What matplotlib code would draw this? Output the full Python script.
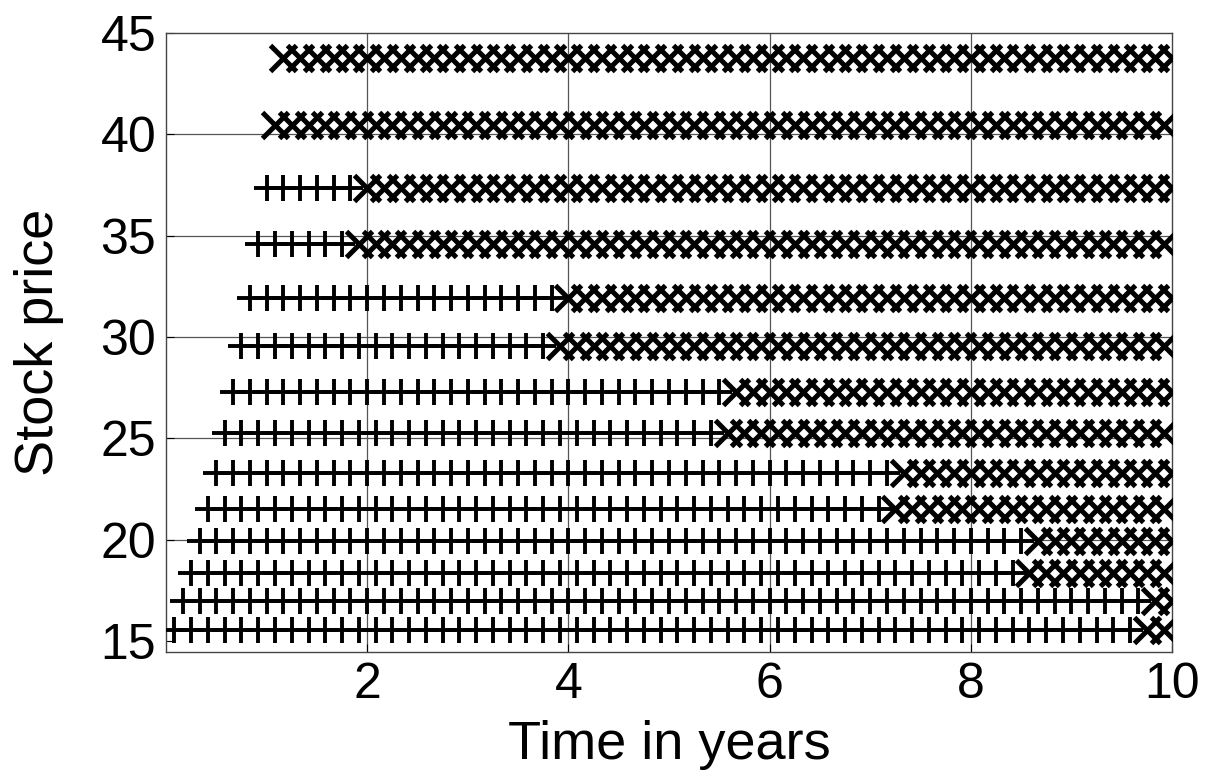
import numpy as np
import matplotlib
matplotlib.use("Agg")
import matplotlib.pyplot as plt

# Price level of each lattice row (top to bottom)
prices = [43.77, 40.46, 37.34, 34.60, 31.92, 29.54, 27.29,
          25.27, 23.28, 21.53, 19.92, 18.35, 16.96, 15.57]
# Month of the first node in each row
first_month = [14, 13, 12, 11, 10, 9, 8, 7, 6, 5, 4, 3, 2, 1]
# Month of the first exercise ('x') node in each row
exercise_month = [14, 13, 24, 23, 48, 47, 68, 67, 88, 87, 104, 103, 118, 117]
last_month = 120
step_months = 2

x_ticks = [2, 4, 6, 8, 10]
y_ticks = [15, 20, 25, 30, 35, 40, 45]

plt.rcParams["font.family"] = ["Liberation Sans", "DejaVu Sans"]

fig = plt.figure(figsize=(12.2, 7.83), dpi=100)
ax = fig.add_axes([166 / 1220, 1 - 652 / 783, (1172 - 166) / 1220, (652 - 33) / 783])

for ax_v in x_ticks[:-1]:
    ax.axvline(ax_v, color="#555555", lw=0.9, zorder=0)
for ay in y_ticks[1:-1]:
    ax.axhline(ay, color="#555555", lw=0.9, zorder=0)

for p, m0, mx in zip(prices, first_month, exercise_month):
    months = np.arange(m0, last_month + 1, step_months)
    t = months / 12.0
    hold = months < mx
    y = np.full(months.shape, p)
    ax.plot(t[hold], y[hold], linestyle="none", marker="+", ms=19, mew=2.8,
            color="black", zorder=3)
    ax.plot(t[~hold], y[~hold], linestyle="none", marker="x", ms=19, mew=3.6,
            color="black", zorder=3)

ax.set_xlim(0, 10)
ax.set_ylim(14.46, 45)
ax.set_xticks(x_ticks)
ax.set_yticks(y_ticks)
ax.tick_params(direction="in", length=6, width=0.8, labelsize=36, pad=7,
               top=False, right=False)
for s in ax.spines.values():
    s.set_color("#444444")
    s.set_linewidth(1.0)

ax.set_xlabel("Time in years", fontsize=39, labelpad=9)
ax.set_ylabel("Stock price", fontsize=39, labelpad=26)

fig.savefig("out.png", dpi=100)
